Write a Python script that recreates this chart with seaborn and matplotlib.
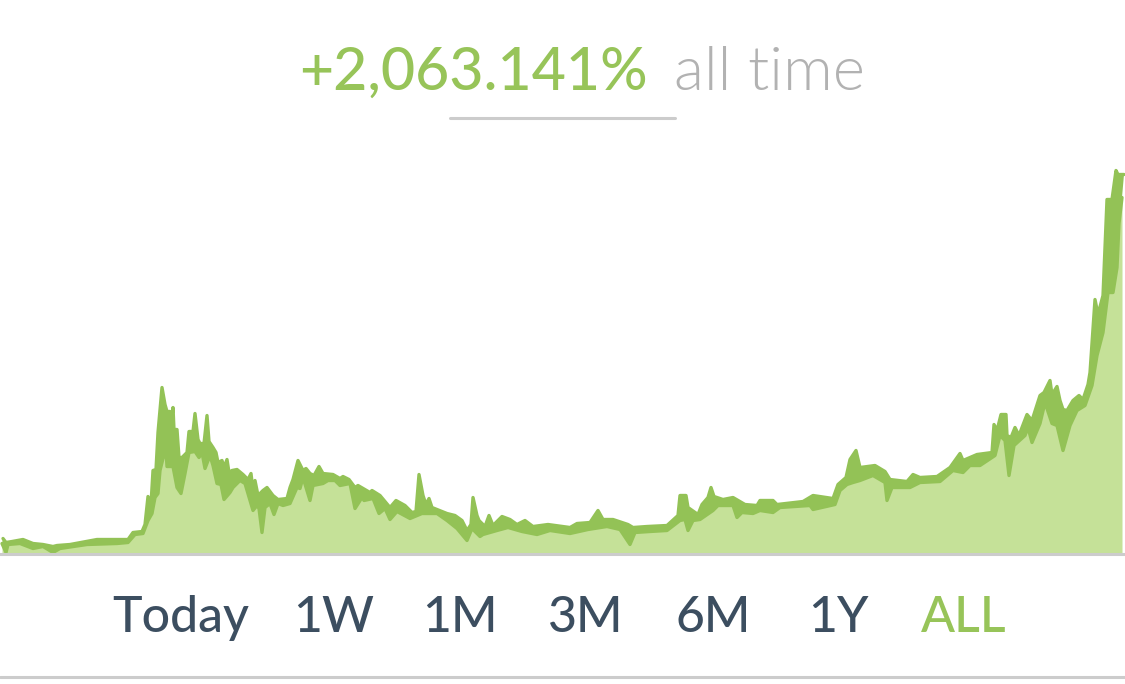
import numpy as np
import pandas as pd
import matplotlib
matplotlib.use("Agg")
import matplotlib.pyplot as plt
from matplotlib.lines import Line2D
import seaborn as sns

# upper edge of the dark band
top_x = [3,6,12,23,33,43,53,57,70,97,117,128,133,142,145,148,151,153,156,158,162,165,167,170,171,173,174,177,179,182,187,189,193,195,198,200,204,207,209,213,216,218,222,224,227,229,232,237,243,248,251,253,255,258,263,267,273,278,287,
         290,293,298,303,306,310,314,319,323,333,340,343,349,355,358,370,372,380,390,396,405,412,416,419,423,426,429,432,447,455,462,467,471,473,477,479,
         485,489,493,502,510,517,525,533,548,570,577,590,598,603,613,628,633,647,667,678,680,686,688,698,702,708,711,714,723,733,745,757,
         760,773,777,803,813,833,838,846,850,856,860,875,885,890,907,913,920,937,950,960,963,970,977,992,994,997,1001,1006,1007,1011,1015,1019,1022,1027,1032,1040,1044,1050,1052,1057,1060,1063,1067,1073,1079,1083,1088,1090,1095,1098,1103,1107,1112,1116,1118,1124]
top_h = [15,11,12,14,10,9,7,8,9,14,14,14,21,22,29,57,49,83,84,121,166,149,142,142,128,146,124,124,96,96,101,122,122,140,114,110,110,138,112,106,101,91,93,86,94,81,83,84,79,74,80,63,73,58,63,66,58,54,55,
         66,74,93,83,85,80,78,87,80,79,75,77,74,66,68,61,63,58,46,53,48,41,42,79,58,49,55,46,40,38,33,23,29,56,38,33,
         27,38,28,37,34,29,33,27,29,26,30,31,43,34,34,29,26,27,28,38,58,58,46,39,49,56,66,57,54,56,49,48,
         53,53,49,52,58,55,69,76,94,103,86,88,82,74,72,79,76,77,86,100,93,96,99,101,129,123,139,139,118,116,126,118,126,139,133,158,161,173,159,167,153,144,143,153,158,154,169,181,254,239,258,354,354,383,379,379]

# lower edge of the dark band, which is also the top of the light fill
low_x = [2,6,8,20,33,43,53,60,87,117,128,135,143,148,152,155,158,160,163,166,167,173,177,181,185,189,195,199,202,205,210,213,217,221,224,230,233,240,245,253,257,259,262,265,270,274,278,283,
         290,297,300,303,310,313,323,328,335,340,350,355,362,364,373,379,385,390,397,410,422,437,447,457,467,472,480,
         483,497,508,522,537,550,570,588,607,620,630,635,650,667,680,685,688,693,700,713,718,733,737,742,753,
         760,773,780,810,813,835,840,847,853,860,873,885,887,892,910,920,940,953,963,970,980,995,1000,1005,1009,1014,1025,1028,1032,1040,1045,1052,1057,1063,1070,1077,1085,1092,1097,1103,1108,1113,1117,1119,1122]
low_h = [10,1,9,10,5,7,1,5,9,10,11,19,20,33,40,56,60,83,95,103,87,87,66,60,80,101,102,96,101,85,98,88,70,69,54,61,66,73,70,43,48,45,21,46,50,39,50,48,
         50,66,65,76,53,68,70,73,73,68,70,45,56,53,55,40,45,34,42,35,40,40,33,25,13,25,17,
         19,23,26,22,19,23,20,24,27,24,9,21,22,23,33,34,23,33,34,43,48,48,36,41,40,
         43,41,46,48,44,49,63,69,71,73,78,71,53,66,66,71,72,83,81,88,88,98,118,113,78,108,118,126,111,130,151,130,128,103,128,143,148,168,198,221,261,261,286,330,356]

headline = "+2,063.141%"
period = "all time"
ranges = ["Today", "1W", "1M", "3M", "6M", "1Y", "ALL"]
range_center_px = [181, 334, 460, 586, 713, 838, 964]

GREEN = "#97c459"
BAND = "#93c256"
FILL = "#c5e198"
RULE = "#cccccc"
NAVY = "#3c4e60"
GREY = "#b2b2b2"
W, H = 1125, 684

sns.set_theme(style="white")
plt.rcParams["font.family"] = ["Lato", "DejaVu Sans"]

top = pd.DataFrame({"x": top_x, "h": top_h})
low = pd.DataFrame({"x": low_x, "h": low_h})

fig = plt.figure(figsize=(W / 100, H / 100), dpi=100, facecolor="white")
base_px, top_px = 553.5, 140
ax = fig.add_axes([0, 1 - base_px / H, 1, (base_px - top_px) / H])
ax.set_xlim(0, W)
ax.set_ylim(0, base_px - top_px)

ax.fill_between(low["x"], low["h"], 0, color=FILL, lw=0, zorder=1)
ax.fill(np.r_[top["x"], low["x"][::-1]], np.r_[top["h"], low["h"][::-1]], color=BAND, lw=0, zorder=2)
sns.lineplot(data=top, x="x", y="h", color=BAND, lw=2.4, sort=False, errorbar=None, ax=ax, zorder=3,
             solid_joinstyle="round")
sns.lineplot(data=low, x="x", y="h", color=BAND, lw=2.4, sort=False, errorbar=None, ax=ax, zorder=3,
             solid_joinstyle="round")

ax.set(xlabel="", ylabel="", xticks=[], yticks=[])
for s in ("top", "left", "right"):
    ax.spines[s].set_visible(False)
ax.spines["bottom"].set_color(RULE)
ax.spines["bottom"].set_linewidth(2.2)
ax.spines["bottom"].set_zorder(5)
ax.patch.set_alpha(0)

def px_text(x, y, s, ha="left", **kw):
    return fig.text(x / W, 1 - y / H, s, va="baseline", ha=ha, **kw)

px_text(299, 90, headline, color=GREEN, fontsize=42.5, fontweight=500)
px_text(674, 90, period, color=GREY, fontsize=44.5, fontweight=300)
for x, lab in zip(range_center_px, ranges):
    px_text(x, 632, lab, ha="center", color=GREEN if lab == "ALL" else NAVY, fontsize=36, fontweight=500)

fig.add_artist(Line2D([450 / W, 675 / W], [1 - 118 / H] * 2, color=RULE, lw=2.2))
fig.add_artist(Line2D([0, 1], [1 - 676.5 / H] * 2, color=RULE, lw=2.2))

fig.savefig("out.png", dpi=100)
